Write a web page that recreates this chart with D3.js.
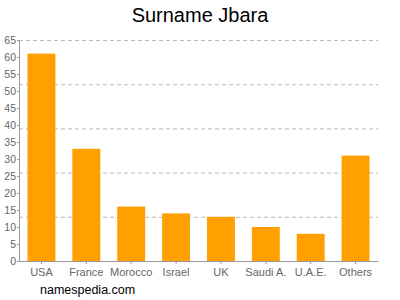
<!DOCTYPE html>
<html>
<head>
<meta charset="utf-8">
<script src="https://cdn.jsdelivr.net/npm/d3@7"></script>
<style>
  body { margin: 0; background: #fff; }
  svg { font-family: Arial, "Liberation Sans", sans-serif; }
</style>
</head>
<body>
<svg width="400" height="300"></svg>
<script>
const countries = ['USA', 'France', 'Morocco', 'Israel', 'UK', 'Saudi A.', 'U.A.E.', 'Others'];
const counts = [61, 33, 16, 14, 13, 10, 8, 31];
const yTicks = [0, 5, 10, 15, 20, 25, 30, 35, 40, 45, 50, 55, 60, 65];
const gridValues = [13, 26, 39, 52, 65];

const svg = d3.select('svg');
const margin = { top: 40, right: 22, bottom: 39, left: 19 };
const innerWidth = 400 - margin.left - margin.right;
const innerHeight = 300 - margin.top - margin.bottom;

const xScale = d3.scaleBand()
    .domain(countries)
    .range([0, innerWidth])
    .paddingInner(0.378)
    .paddingOuter(0.189);

const yScale = d3.scaleLinear()
    .domain([0, 65])
    .range([innerHeight, 0]);

svg.append('text')
    .attr('x', 200).attr('y', 22)
    .attr('text-anchor', 'middle')
    .attr('font-size', 20)
    .attr('fill', '#000')
    .text('Surname Jbara');

const g = svg.append('g')
    .attr('transform', `translate(${margin.left}, ${margin.top})`);

g.selectAll('.grid').data(gridValues)
    .enter().append('line')
        .attr('x1', 0).attr('x2', innerWidth)
        .attr('y1', d => yScale(d) + 0.5).attr('y2', d => yScale(d) + 0.5)
        .attr('stroke', '#bbb')
        .attr('stroke-dasharray', '4,3');

g.selectAll('rect').data(countries)
    .enter().append('rect')
        .attr('x', d => xScale(d))
        .attr('y', (d, i) => yScale(counts[i]))
        .attr('width', xScale.bandwidth())
        .attr('height', (d, i) => innerHeight - yScale(counts[i]))
        .attr('fill', '#ffa000');

const yAxis = g.append('g')
    .call(d3.axisLeft(yScale).tickValues(yTicks).tickSize(2).tickPadding(1));
yAxis.select('.domain').attr('stroke', '#999');
yAxis.selectAll('.tick line').attr('stroke', '#999');
yAxis.selectAll('.tick text').attr('fill', '#666').attr('font-size', 10.5)
    .attr('font-family', 'Arial, "Liberation Sans", sans-serif');

const xAxis = g.append('g')
    .attr('transform', `translate(0, ${innerHeight})`)
    .call(d3.axisBottom(xScale).tickSize(3).tickPadding(4).tickSizeOuter(0));
xAxis.select('.domain').attr('stroke', '#999');
xAxis.selectAll('.tick line').attr('stroke', '#999');
xAxis.selectAll('.tick text').attr('fill', '#666').attr('font-size', 11)
    .attr('font-family', 'Arial, "Liberation Sans", sans-serif');

svg.append('text')
    .attr('x', 40).attr('y', 294)
    .attr('font-size', 12.5)
    .attr('fill', '#000')
    .text('namespedia.com');
</script>
</body>
</html>
